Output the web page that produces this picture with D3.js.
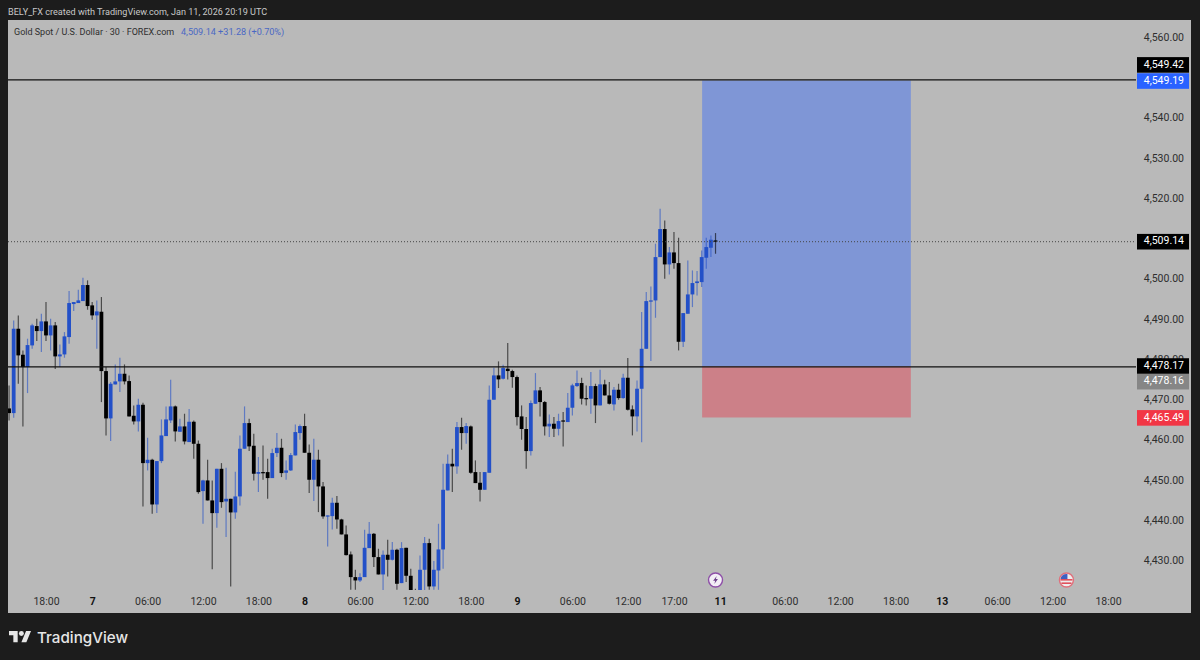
<!DOCTYPE html>
<html>
<head>
<meta charset="utf-8">
<script src="https://cdn.jsdelivr.net/npm/d3@7"></script>
<style>
  html, body { margin: 0; padding: 0; background: #1c1c1c; }
  svg { display: block; font-family: Roboto, sans-serif; }
</style>
</head>
<body>
<div id="chart"></div>
<script>
// values, one entry per 30 minute bar
const opens = [
  4467.74,4466.58,4487.53,4481.07,4478.01,4483.39,4488.19,4486.95,4489.35,4485.87,
  4488.36,4480.66,4481.15,4485.46,4493.66,4493.91,4494.40,4498.38,4493.33,4490.84,
  4491.75,4477.01,4465.26,4473.70,4474.45,4476.35,4474.53,4465.92,4464.51,4468.65,
  4454.16,4454.99,4443.89,4454.66,4460.87,4464.76,4468.24,4461.94,4463.27,4459.38,
  4464.43,4458.96,4447.21,4449.86,4444.89,4441.74,4452.75,4444.64,4445.30,4441.91,
  4445.89,4457.73,4464.10,4458.47,4451.52,4451.93,4451.93,4450.44,4456.65,4457.97,
  4451.76,4452.34,4456.07,4461.62,4463.36,4456.73,4450.03,4455.00,4448.37,4440.92,
  4441.00,4444.31,4440.17,4436.45,4431.48,4425.85,4425.02,4425.85,4433.05,4436.61,
  4430.82,4426.51,4431.40,4430.15,4432.64,4424.36,4433.13,4426.18,4422.40,4422.54,
  4427.67,4434.30,4423.53,4427.50,4432.72,4447.38,4454.00,4453.34,4463.11,4461.62,
  4463.27,4451.93,4449.28,4447.54,4451.76,4469.90,4475.94,4475.11,4477.60,4477.02,
  4475.53,4465.76,4462.63,4457.15,4468.90,4472.22,4469.32,4463.27,4463.94,4462.69,
  4464.76,4464.35,4467.91,4473.29,4474.04,4470.31,4470.15,4473.29,4468.49,4473.71,
  4470.97,4468.74,4472.38,4470.31,4475.36,4467.50,4465.76,4472.62,4482.55,4494.31,
  4494.56,4505.32,4512.28,4503.50,4506.48,4503.83,4484.29,4491.25,4496.05,4498.87,
  4499.11,4505.16,4507.64,4509.46
];
const closes = [
  4466.58,4487.53,4480.91,4478.01,4483.47,4488.36,4486.95,4489.35,4485.87,4488.36,
  4480.66,4481.15,4485.63,4493.91,4494.15,4494.57,4498.38,4493.16,4490.84,4491.84,
  4477.01,4465.26,4473.87,4474.45,4476.35,4474.45,4465.75,4464.51,4468.65,4454.16,
  4454.99,4443.89,4454.66,4461.03,4465.01,4468.24,4462.03,4463.27,4459.54,4464.43,
  4458.96,4446.96,4449.86,4444.89,4441.74,4452.75,4444.47,4445.30,4441.91,4445.88,
  4457.73,4464.10,4458.31,4451.52,4451.93,4451.68,4450.44,4456.65,4457.97,4451.68,
  4452.34,4456.15,4461.87,4463.36,4456.73,4450.03,4455.00,4448.37,4440.92,4441.17,
  4444.31,4440.17,4436.45,4431.31,4425.85,4425.02,4425.85,4433.13,4436.61,4430.82,
  4426.51,4431.40,4430.15,4432.64,4424.19,4433.05,4426.18,4422.54,4421.00,4427.67,
  4434.30,4423.53,4427.67,4432.72,4447.54,4454.00,4453.34,4463.11,4461.62,4463.36,
  4451.76,4449.20,4447.54,4451.93,4469.90,4475.94,4474.95,4477.76,4477.02,4475.53,
  4465.59,4462.63,4457.15,4469.07,4472.22,4469.32,4463.27,4463.94,4462.69,4464.60,
  4464.52,4467.91,4473.46,4474.04,4470.15,4470.15,4473.29,4468.49,4473.71,4470.97,
  4468.90,4472.38,4470.31,4475.36,4467.41,4465.76,4472.63,4482.55,4494.39,4494.56,
  4505.32,4512.28,4503.50,4506.48,4503.83,4484.29,4491.41,4496.05,4498.87,4499.28,
  4505.32,4507.81,4509.63,4509.14
];
const highs = [
  4473.46,4489.60,4490.84,4482.15,4485.05,4488.77,4490.01,4491.26,4494.15,4490.01,
  4489.19,4483.64,4486.70,4496.89,4494.15,4497.22,4500.20,4499.54,4494.15,4494.57,
  4495.40,4478.01,4474.28,4478.67,4480.33,4478.67,4475.94,4468.49,4470.14,4469.15,
  4460.45,4455.24,4454.66,4465.01,4468.24,4474.86,4468.49,4465.17,4466.42,4467.58,
  4464.76,4459.79,4450.02,4454.99,4449.86,4452.75,4454.16,4453.00,4445.30,4452.01,
  4461.04,4468.24,4465.18,4461.45,4455.66,4458.55,4455.24,4457.73,4461.62,4460.21,
  4454.83,4456.65,4463.77,4463.77,4466.42,4458.80,4460.21,4457.48,4449.45,4441.17,
  4445.55,4445.97,4440.34,4438.68,4432.22,4427.67,4426.84,4437.61,4439.51,4436.78,
  4432.89,4432.47,4435.12,4434.54,4432.89,4434.54,4433.13,4427.92,4422.95,4431.24,
  4435.79,4435.37,4429.82,4439.10,4454.00,4456.32,4457.73,4464.35,4465.43,4464.10,
  4463.52,4454.83,4451.93,4451.93,4473.46,4477.85,4479.42,4478.59,4483.97,4477.35,
  4475.94,4468.49,4465.59,4469.73,4476.52,4473.04,4469.57,4466.25,4465.59,4466.42,
  4466.83,4471.55,4473.87,4477.18,4475.36,4473.46,4476.77,4473.87,4477.35,4474.87,
  4474.29,4473.04,4473.87,4476.36,4480.25,4468.49,4474.70,4491.66,4496.63,4498.04,
  4508.64,4517.33,4514.43,4507.81,4511.53,4510.13,4491.41,4504.50,4502.01,4501.85,
  4506.98,4510.13,4510.71,4511.29
];
const lows = [
  4464.76,4465.42,4473.87,4463.27,4471.55,4482.56,4484.47,4481.73,4484.47,4482.15,
  4477.51,4478.01,4480.33,4483.80,4491.92,4493.91,4494.40,4492.25,4489.77,4482.56,
  4469.31,4461.03,4459.63,4473.70,4471.80,4473.70,4465.75,4463.77,4462.03,4443.40,
  4452.34,4441.58,4441.74,4454.16,4460.87,4464.10,4459.54,4461.94,4458.80,4459.38,
  4455.24,4446.55,4439.09,4444.89,4427.83,4438.10,4443.07,4435.78,4423.53,4440.33,
  4443.65,4457.73,4457.15,4449.86,4446.96,4450.03,4445.31,4450.44,4455.66,4450.69,
  4450.03,4452.18,4456.07,4459.96,4456.73,4446.71,4444.73,4441.99,4440.34,4433.47,
  4437.69,4437.85,4436.45,4431.23,4422.70,4422.70,4424.61,4425.85,4433.05,4428.33,
  4426.51,4422.54,4426.01,4429.99,4422.70,4424.36,4424.61,4422.54,4419.50,4422.54,
  4422.54,4422.70,4422.70,4422.70,4427.92,4447.38,4446.96,4451.52,4457.48,4458.97,
  4451.52,4449.20,4444.64,4447.54,4451.76,4469.90,4472.80,4474.95,4474.95,4472.88,
  4463.52,4459.96,4452.76,4456.07,4468.90,4465.76,4461.04,4460.62,4460.62,4461.04,
  4458.30,4464.35,4466.01,4473.04,4468.74,4468.49,4466.42,4464.10,4468.49,4470.97,
  4468.74,4467.25,4469.90,4470.15,4467.25,4461.04,4462.03,4459.37,4482.55,4479.49,
  4490.25,4505.32,4499.94,4501.02,4502.43,4482.14,4482.97,4491.25,4492.90,4495.80,
  4497.87,4502.43,4505.32,4506.15
];

const priceTicks = [4560,4540,4530,4520,4500,4490,4480,4470,4460,4450,4440,4430];
const timeTickBars = [8,18,30,42,54,64,76,88,100,110,122,134,144,154,168,180,192,202,214,226,238];
const timeTickLabels = ["18:00","7","06:00","12:00","18:00","8","06:00","12:00","18:00","9","06:00","12:00","17:00","11","06:00","12:00","18:00","13","06:00","12:00","18:00"];
const boldLabels = ["7","8","9","11","13"];

const lastPrice = 4509.14;
const targetPrice = 4549.19;
const entryPrice = 4478.16;
const stopPrice = 4465.49;
const upperLine = 4549.42;
const lowerLine = 4478.17;
const positionBars = [150.1, 195.3];
const calendarBars = [153, 229];

let width = 1200,
    height = 660,
    panel = ({ left: 8, top: 20, right: 1191, bottom: 613, plotRight: 1136, plotBottom: 590 });

const svg = d3.select("#chart")
  .append("svg")
  .attr("width", width)
  .attr("height", height)
  .attr("viewBox", [0, 0, width, height]);

let x = d3.scaleLinear().domain([8, 238]).range([46, 1108]);
let y = d3.scaleLinear().domain([4430, 4560]).range([560.4, 36.9]);

svg.append("rect")
  .attr("width", width).attr("height", height)
  .attr("fill", "#1c1c1c");

svg.append("rect")
  .attr("x", panel.left).attr("y", panel.top)
  .attr("width", panel.right - panel.left)
  .attr("height", panel.bottom - panel.top)
  .attr("fill", "#b9b9b9");

svg.append("clipPath").attr("id", "plot")
  .append("rect")
  .attr("x", panel.left).attr("y", panel.top)
  .attr("width", panel.plotRight - panel.left)
  .attr("height", panel.plotBottom - panel.top);

// long position box
svg.append("rect")
  .attr("x", x(positionBars[0])).attr("width", x(positionBars[1]) - x(positionBars[0]))
  .attr("y", y(targetPrice)).attr("height", y(entryPrice) - y(targetPrice))
  .attr("fill", "#7f96d6");

svg.append("rect")
  .attr("x", x(positionBars[0])).attr("width", x(positionBars[1]) - x(positionBars[0]))
  .attr("y", y(entryPrice)).attr("height", y(stopPrice) - y(entryPrice))
  .attr("fill", "#cc8088");

// axes
let yAxis = svg.append("g")
  .attr("transform", `translate(1184,0)`)
  .call(d3.axisLeft(y).tickValues(priceTicks).tickSize(0).tickFormat(d3.format(",.2f")));
yAxis.select(".domain").remove();
yAxis.selectAll("text")
  .attr("x", 0)
  .attr("font-family", "Roboto, sans-serif")
  .attr("font-size", 10.5)
  .attr("fill", "#2e2e2e");

let xAxis = svg.append("g")
  .attr("transform", `translate(0,595)`)
  .call(d3.axisBottom(x).tickValues(timeTickBars).tickSize(0)
    .tickFormat((d, i) => timeTickLabels[i]));
xAxis.select(".domain").remove();
xAxis.selectAll("text")
  .attr("y", 3)
  .attr("font-family", "Roboto, sans-serif")
  .attr("font-size", 10.5)
  .attr("font-weight", d => boldLabels.includes(timeTickLabels[timeTickBars.indexOf(d)]) ? 700 : 400)
  .attr("fill", d => boldLabels.includes(timeTickLabels[timeTickBars.indexOf(d)]) ? "#111" : "#2e2e2e");

// candles
let candles = svg.append("g").attr("clip-path", "url(#plot)");
let bars = d3.range(opens.length);
const color = i => closes[i] >= opens[i] ? "#2350c8" : "#000";

candles.selectAll("line")
  .data(bars)
  .join("line")
  .attr("x1", i => x(i)).attr("x2", i => x(i))
  .attr("y1", i => y(highs[i])).attr("y2", i => y(lows[i]))
  .attr("stroke", color)
  .attr("stroke-opacity", 0.6)
  .attr("stroke-width", 1.2);

candles.selectAll("rect")
  .data(bars)
  .join("rect")
  .attr("x", i => x(i) - 1.9)
  .attr("width", 3.8)
  .attr("y", i => y(Math.max(opens[i], closes[i])))
  .attr("height", i => Math.max(1.2, Math.abs(y(opens[i]) - y(closes[i]))))
  .attr("fill", color);

// level lines
svg.append("line")
  .attr("x1", panel.left).attr("x2", panel.plotRight)
  .attr("y1", y(lastPrice)).attr("y2", y(lastPrice))
  .attr("stroke", "#444").attr("stroke-dasharray", "1 2");

for (let level of [upperLine, lowerLine]) {
  svg.append("line")
    .attr("x1", panel.left).attr("x2", panel.plotRight)
    .attr("y1", y(level) + 0.4).attr("y2", y(level) + 0.4)
    .attr("stroke", "#111").attr("stroke-width", 1.2);
}

// price tags on the right scale, nudged where they would overlap
const tags = [
  { value: upperLine, bg: "#000", dy: -14.6 },
  { value: targetPrice, bg: "#2962ff", dy: 0.6 },
  { value: lastPrice, bg: "#000", dy: 0 },
  { value: lowerLine, bg: "#000", dy: -0.4 },
  { value: entryPrice, bg: "#868686", dy: 15.2 },
  { value: stopPrice, bg: "#f23645", dy: 0.4 }
];
for (let t of tags) {
  let cy = y(t.value) + t.dy;
  svg.append("rect")
    .attr("x", 1137).attr("y", cy - 7.8)
    .attr("width", 52).attr("height", 15.6)
    .attr("fill", t.bg);
  svg.append("text")
    .text(d3.format(",.2f")(t.value))
    .attr("x", 1184).attr("y", cy)
    .attr("text-anchor", "end")
    .attr("dominant-baseline", "middle")
    .attr("font-size", 10.5)
    .attr("fill", "#fff");
}

// header text
svg.append("text")
  .text("BELY_FX created with TradingView.com, Jan 11, 2026 20:19 UTC")
  .attr("x", 8).attr("y", 15)
  .attr("font-size", 9.1)
  .attr("fill", "#c8c8c8");

svg.append("text")
  .text("Gold Spot / U.S. Dollar · 30 · FOREX.com")
  .attr("x", 14).attr("y", 35)
  .attr("font-size", 9)
  .attr("fill", "#2e2e2e");

svg.append("text")
  .text("4,509.14  +31.28 (+0.70%)")
  .attr("x", 181).attr("y", 35)
  .attr("font-size", 9.1)
  .attr("fill", "#4a68c4");

// calendar markers on the time scale
let bolt = svg.append("g").attr("transform", `translate(${x(calendarBars[0])},580)`);
bolt.append("circle").attr("r", 7).attr("fill", "#f3eef6").attr("stroke", "#8e4fa8").attr("stroke-width", 1.4);
bolt.append("path").attr("d", "M1.2,-4 L-2.4,0.8 L-0.3,0.8 L-1.2,4 L2.4,-0.9 L0.3,-0.9 Z").attr("fill", "#6d3f8a");

let flag = svg.append("g").attr("transform", `translate(${x(calendarBars[1])},580)`);
flag.append("circle").attr("r", 7).attr("fill", "#eee").attr("stroke", "#e0707c").attr("stroke-width", 1.4);
flag.append("rect").attr("x", -6).attr("y", -1).attr("width", 12).attr("height", 1.6).attr("fill", "#e0505c");
flag.append("rect").attr("x", -5).attr("y", 2.4).attr("width", 10).attr("height", 1.6).attr("fill", "#e0505c");
flag.append("path").attr("d", "M-6,-1 A6,6 0 0 1 1,-6 L1,-1 Z").attr("fill", "#3f5fc0");

// logo
let logo = svg.append("g").attr("transform", "translate(9,628.5) scale(0.62)").attr("fill", "#e6e6e6");
logo.append("path").attr("d", "M14 22H7V11H0V4h14v18zM28 22h-8l7.5-18h8L28 22z");
logo.append("circle").attr("cx", 20).attr("cy", 8).attr("r", 4);

svg.append("text")
  .text("TradingView")
  .attr("x", 37).attr("y", 642.5)
  .attr("font-family", "Inter, sans-serif")
  .attr("font-size", 15.2)
  .attr("font-weight", 500)
  .attr("fill", "#e6e6e6");
</script>
</body>
</html>
